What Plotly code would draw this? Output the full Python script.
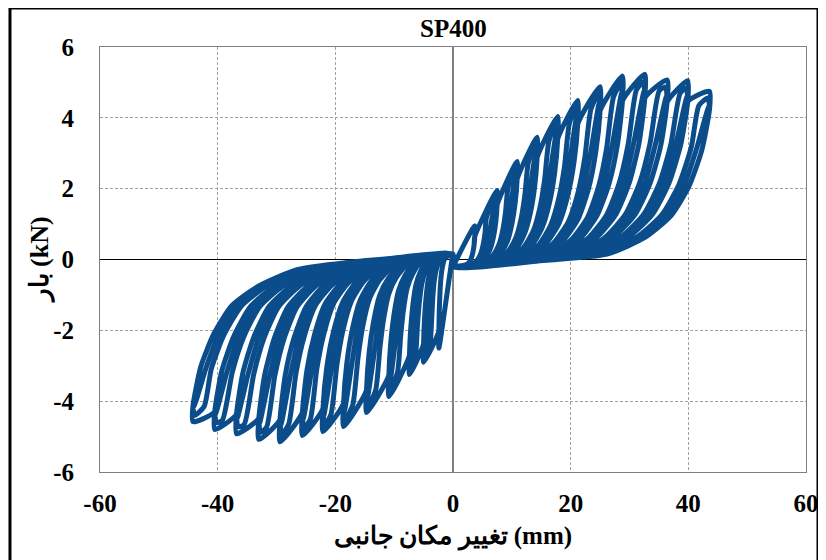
import plotly.graph_objects as go

# ---- tick labels ----
x_tickvals = [-60, -40, -20, 0, 20, 40, 60]
x_ticktext = ["-60", "-40", "-20", "0", "20", "40", "60"]
y_tickvals = [-6, -4, -2, 0, 2, 4, 6]
y_ticktext = ["-6", "-4", "-2", "0", "2", "4", "6"]

# ---- positive half-cycles: peak of first cycle at each amplitude (mm, kN) ----
pos_peak_x = [3.7, 7.5, 10.9, 14.3, 17.8, 21.2, 25.0, 28.8, 32.6, 36.4, 39.9, 43.6]
pos_peak_y = [0.95, 1.95, 2.77, 3.45, 4.04, 4.49, 4.88, 5.18, 5.23, 5.07, 5.05, 4.75]

# pinched reload / unload curve for each positive amplitude (origin -> top)
pos_curve_x = [
    [0, 1.30, 2.22, 2.78, 3.15, 3.40, 3.59, 3.70],
    [0, 2.63, 4.50, 5.63, 6.38, 6.90, 7.28, 7.50],
    [0, 3.82, 6.54, 8.18, 9.27, 10.03, 10.57, 10.90],
    [0, 5.00, 8.58, 10.73, 12.16, 13.16, 13.87, 14.30],
    [0, 6.23, 10.68, 13.35, 15.13, 16.38, 17.27, 17.80],
    [0, 7.42, 12.72, 15.90, 18.02, 19.50, 20.56, 21.20],
    [0, 8.75, 15.00, 18.75, 21.25, 23.00, 24.25, 25.00],
    [0, 10.08, 17.28, 21.60, 24.48, 26.50, 27.94, 28.80],
    [0, 11.41, 19.56, 24.45, 27.71, 29.99, 31.62, 32.60],
    [0, 12.74, 21.84, 27.30, 30.94, 33.49, 35.31, 36.40],
    [0, 13.97, 23.94, 29.93, 33.92, 36.71, 38.70, 39.90],
    [0, 15.26, 26.16, 32.70, 37.06, 40.11, 42.29, 43.60],
]
pos_curve_y = [
    [-0.20, -0.18, -0.15, -0.07, 0.06, 0.22, 0.42, 0.65],
    [-0.20, -0.16, -0.10, 0.08, 0.32, 0.66, 1.07, 1.54],
    [-0.20, -0.14, -0.07, 0.20, 0.53, 1.02, 1.60, 2.27],
    [-0.20, -0.13, -0.03, 0.30, 0.73, 1.32, 2.05, 2.88],
    [-0.20, -0.11, 0.01, 0.39, 0.89, 1.59, 2.44, 3.41],
    [-0.20, -0.10, 0.03, 0.47, 1.02, 1.80, 2.74, 3.83],
    [-0.20, -0.08, 0.07, 0.54, 1.14, 1.98, 3.02, 4.20],
    [-0.20, -0.07, 0.10, 0.59, 1.24, 2.13, 3.23, 4.48],
    [-0.20, -0.06, 0.12, 0.63, 1.28, 2.18, 3.29, 4.56],
    [-0.20, -0.05, 0.12, 0.63, 1.27, 2.15, 3.22, 4.45],
    [-0.20, -0.04, 0.14, 0.65, 1.28, 2.16, 3.24, 4.46],
    [-0.20, -0.03, 0.15, 0.63, 1.24, 2.07, 3.09, 4.24],
]
# second-cycle reload paths (amplitudes 2..12), ending at the second-cycle peak
pos_cycle2_x = [
    [3.36, 4.20, 4.77, 5.15, 5.44, 5.67, 7.25],
    [5.52, 6.91, 7.83, 8.47, 8.93, 9.35, 10.65],
    [7.56, 9.46, 10.72, 11.60, 12.22, 12.80, 14.05],
    [9.63, 12.04, 13.65, 14.77, 15.57, 16.30, 17.55],
    [11.70, 14.63, 16.58, 17.94, 18.92, 19.78, 20.95],
    [13.86, 17.33, 19.64, 21.25, 22.41, 23.45, 24.75],
    [16.14, 20.18, 22.87, 24.75, 26.10, 27.28, 28.55],
    [18.42, 23.03, 26.10, 28.25, 29.78, 31.16, 32.35],
    [20.70, 25.88, 29.33, 31.74, 33.47, 35.05, 36.15],
    [22.89, 28.62, 32.43, 35.10, 37.00, 38.60, 39.65],
    [25.05, 31.32, 35.49, 38.41, 40.50, 41.80, 43.35],
]
pos_cycle2_y = [
    [-0.13, 0.00, 0.19, 0.44, 0.75, 1.17, 1.87],
    [-0.09, 0.14, 0.43, 0.84, 1.34, 2.03, 2.66],
    [-0.05, 0.25, 0.63, 1.17, 1.83, 2.74, 3.31],
    [-0.01, 0.35, 0.81, 1.46, 2.25, 3.34, 3.88],
    [0.02, 0.43, 0.96, 1.70, 2.59, 3.84, 4.31],
    [0.05, 0.51, 1.08, 1.89, 2.88, 4.25, 4.68],
    [0.09, 0.57, 1.19, 2.06, 3.13, 4.59, 4.97],
    [0.11, 0.61, 1.26, 2.16, 3.26, 4.78, 5.02],
    [0.12, 0.63, 1.28, 2.17, 3.26, 4.76, 4.87],
    [0.13, 0.64, 1.28, 2.16, 3.23, 4.69, 4.85],
    [0.15, 0.64, 1.26, 2.12, 3.17, 4.35, 4.56],
]
# third-cycle reload paths (amplitudes 2..12)
pos_cycle3_x = [
    [3.93, 4.92, 5.58, 6.03, 6.36, 7.38],
    [6.03, 7.55, 8.55, 9.25, 9.75, 10.78],
    [8.07, 10.10, 11.44, 12.38, 13.05, 14.18],
    [10.16, 12.70, 14.39, 15.58, 16.42, 17.68],
    [12.21, 15.27, 17.30, 18.72, 19.74, 21.08],
    [14.43, 18.04, 20.45, 22.13, 23.33, 24.88],
    [16.71, 20.89, 23.68, 25.63, 27.02, 28.68],
    [18.99, 23.74, 26.91, 29.12, 30.70, 32.48],
    [21.27, 26.59, 30.14, 32.62, 34.39, 36.28],
    [23.42, 29.28, 33.18, 35.91, 37.85, 39.78],
    [25.61, 32.01, 36.28, 39.26, 41.40, 43.48],
]
pos_cycle3_y = [
    [-0.12, 0.04, 0.26, 0.55, 0.91, 1.77],
    [-0.08, 0.17, 0.48, 0.93, 1.47, 2.52],
    [-0.04, 0.28, 0.68, 1.25, 1.94, 3.14],
    [0.00, 0.37, 0.85, 1.53, 2.35, 3.68],
    [0.03, 0.45, 0.99, 1.75, 2.67, 4.09],
    [0.06, 0.53, 1.11, 1.94, 2.95, 4.44],
    [0.10, 0.58, 1.22, 2.10, 3.18, 4.71],
    [0.12, 0.62, 1.27, 2.17, 3.28, 4.76],
    [0.12, 0.63, 1.28, 2.16, 3.24, 4.61],
    [0.14, 0.65, 1.28, 2.16, 3.24, 4.60],
    [0.15, 0.64, 1.25, 2.10, 3.13, 4.32],
]

# ---- negative half-cycles ----
neg_peak_x = [-2.4, -5.0, -7.4, -10.9, -14.7, -18.6, -22.1, -25.6, -29.4, -33.0, -36.8, -40.5, -44.2]
neg_peak_y = [-2.5, -2.9, -3.25, -3.87, -4.32, -4.72, -4.86, -4.97, -5.15, -5.08, -4.92, -4.80, -4.58]

neg_curve_x = [
    [0, -0.84, -1.44, -1.80, -2.04, -2.21, -2.33, -2.40],
    [0, -1.75, -3.00, -3.75, -4.25, -4.60, -4.85, -5.00],
    [0, -2.59, -4.44, -5.55, -6.29, -6.81, -7.18, -7.40],
    [0, -3.82, -6.54, -8.18, -9.27, -10.03, -10.57, -10.90],
    [0, -5.15, -8.82, -11.03, -12.50, -13.52, -14.26, -14.70],
    [0, -6.51, -11.16, -13.95, -15.81, -17.11, -18.04, -18.60],
    [0, -7.74, -13.26, -16.58, -18.79, -20.33, -21.44, -22.10],
    [0, -8.96, -15.36, -19.20, -21.76, -23.55, -24.83, -25.60],
    [0, -10.29, -17.64, -22.05, -24.99, -27.05, -28.52, -29.40],
    [0, -11.55, -19.80, -24.75, -28.05, -30.36, -32.01, -33.00],
    [0, -12.88, -22.08, -27.60, -31.28, -33.86, -35.70, -36.80],
    [0, -14.18, -24.30, -30.38, -34.43, -37.26, -39.29, -40.50],
    [0, -15.47, -26.52, -33.15, -37.57, -40.66, -42.87, -44.20],
]
neg_curve_y = [
    [0.15, 0.10, 0.01, -0.21, -0.50, -0.92, -1.42, -2.02],
    [0.15, 0.10, -0.02, -0.29, -0.61, -1.11, -1.69, -2.38],
    [0.15, 0.08, -0.05, -0.35, -0.71, -1.27, -1.93, -2.71],
    [0.15, 0.06, -0.09, -0.46, -0.89, -1.56, -2.33, -3.27],
    [0.15, 0.05, -0.14, -0.54, -1.03, -1.77, -2.64, -3.69],
    [0.15, 0.03, -0.18, -0.62, -1.16, -1.97, -2.92, -4.06],
    [0.15, 0.02, -0.20, -0.66, -1.22, -2.05, -3.03, -4.21],
    [0.15, 0.01, -0.22, -0.70, -1.26, -2.13, -3.13, -4.32],
    [0.15, -0.01, -0.25, -0.75, -1.34, -2.23, -3.27, -4.52],
    [0.15, -0.02, -0.26, -0.76, -1.34, -2.22, -3.26, -4.48],
    [0.15, -0.02, -0.28, -0.76, -1.33, -2.19, -3.19, -4.37],
    [0.15, -0.03, -0.28, -0.76, -1.33, -2.17, -3.14, -4.30],
    [0.15, -0.04, -0.29, -0.76, -1.30, -2.10, -3.03, -4.14],
]
neg_cycle2_x = [
    [-2.22, -2.78, -3.15, -3.41, -3.59, -3.90, -4.75],
    [-3.72, -4.65, -5.27, -5.71, -6.02, -6.39, -7.15],
    [-5.49, -6.87, -7.78, -8.42, -8.88, -9.42, -10.65],
    [-7.68, -9.61, -10.89, -11.78, -12.42, -13.15, -14.45],
    [-9.99, -12.49, -14.16, -15.32, -16.15, -17.03, -18.35],
    [-12.21, -15.27, -17.30, -18.72, -19.74, -20.75, -21.85],
    [-14.31, -17.89, -20.28, -21.94, -23.14, -24.25, -25.35],
    [-16.50, -20.63, -23.38, -25.30, -26.68, -27.93, -29.15],
    [-18.72, -23.40, -26.52, -28.71, -30.27, -31.70, -32.75],
    [-20.94, -26.18, -29.67, -32.11, -33.86, -35.50, -36.55],
    [-23.19, -28.99, -32.86, -35.56, -37.50, -39.20, -40.25],
    [-25.41, -31.77, -36.00, -38.96, -41.08, -42.30, -43.95],
]
neg_cycle2_y = [
    [-0.01, -0.25, -0.56, -1.02, -1.56, -2.37, -2.78],
    [-0.04, -0.32, -0.66, -1.19, -1.81, -2.73, -3.12],
    [-0.07, -0.41, -0.80, -1.42, -2.13, -3.17, -3.72],
    [-0.12, -0.50, -0.96, -1.67, -2.49, -3.69, -4.15],
    [-0.16, -0.58, -1.10, -1.87, -2.78, -4.10, -4.53],
    [-0.19, -0.64, -1.19, -2.01, -2.98, -4.38, -4.67],
    [-0.21, -0.68, -1.24, -2.09, -3.08, -4.51, -4.77],
    [-0.24, -0.73, -1.30, -2.18, -3.20, -4.65, -4.94],
    [-0.26, -0.76, -1.34, -2.23, -3.27, -4.74, -4.88],
    [-0.27, -0.76, -1.34, -2.21, -3.23, -4.66, -4.72],
    [-0.28, -0.76, -1.33, -2.18, -3.17, -4.54, -4.61],
    [-0.29, -0.76, -1.32, -2.14, -3.09, -4.15, -4.40],
]
neg_cycle3_x = [
    [-2.61, -3.27, -3.70, -4.01, -4.22, -4.88],
    [-4.08, -5.10, -5.78, -6.26, -6.60, -7.28],
    [-6.02, -7.53, -8.53, -9.23, -9.73, -10.78],
    [-8.25, -10.32, -11.70, -12.65, -13.34, -14.58],
    [-10.58, -13.22, -14.99, -16.22, -17.10, -18.48],
    [-12.74, -15.93, -18.05, -19.53, -20.59, -21.98],
    [-14.84, -18.55, -21.02, -22.75, -23.99, -25.48],
    [-17.07, -21.34, -24.19, -26.18, -27.60, -29.28],
    [-19.26, -24.08, -27.29, -29.54, -31.14, -32.88],
    [-21.51, -26.89, -30.48, -32.99, -34.78, -36.68],
    [-23.75, -29.69, -33.65, -36.41, -38.40, -40.38],
    [-25.97, -32.46, -36.79, -39.81, -41.98, -44.08],
]
neg_cycle3_y = [
    [-0.02, -0.27, -0.59, -1.07, -1.63, -2.64],
    [-0.05, -0.34, -0.69, -1.23, -1.87, -2.96],
    [-0.08, -0.44, -0.85, -1.49, -2.23, -3.52],
    [-0.13, -0.52, -1.00, -1.72, -2.57, -3.93],
    [-0.17, -0.60, -1.13, -1.92, -2.85, -4.30],
    [-0.20, -0.65, -1.21, -2.03, -3.01, -4.42],
    [-0.22, -0.69, -1.25, -2.11, -3.11, -4.52],
    [-0.25, -0.74, -1.32, -2.21, -3.24, -4.69],
    [-0.26, -0.76, -1.34, -2.23, -3.27, -4.62],
    [-0.28, -0.76, -1.34, -2.20, -3.21, -4.48],
    [-0.28, -0.76, -1.33, -2.18, -3.16, -4.37],
    [-0.29, -0.76, -1.31, -2.12, -3.06, -4.17],
]

BLUE = "#0a4d8a"
FONT = "Liberation Serif, Times New Roman, serif"


def half_cycle(curves_x, curves_y, peaks_x, peaks_y, c2x, c2y, c3x, c3y, k):
    """Assemble the path of one amplitude level from the tabulated pieces."""
    cx, cy = curves_x[k], curves_y[k]
    if k > 0:
        px, py = list(curves_x[k - 1]), list(curves_y[k - 1])
    else:
        px, py = [cx[0]], [cy[0]]
    xs = px + [peaks_x[k]] + cx[::-1]
    ys = py + [peaks_y[k]] + cy[::-1]
    if k > 0:
        for rx, ry in ((c2x[k - 1], c2y[k - 1]), (c3x[k - 1], c3y[k - 1])):
            xs += cx[:2] + rx + [cx[-1]] + cx[::-1]
            ys += cy[:2] + ry + [cy[-1]] + cy[::-1]
    return xs, ys


all_x, all_y = [], []
n = max(len(pos_peak_x), len(neg_peak_x))
for k in range(n):
    if k < len(pos_peak_x):
        xs, ys = half_cycle(pos_curve_x, pos_curve_y, pos_peak_x, pos_peak_y,
                            pos_cycle2_x, pos_cycle2_y, pos_cycle3_x, pos_cycle3_y, k)
        all_x += xs
        all_y += ys
    if k < len(neg_peak_x):
        xs, ys = half_cycle(neg_curve_x, neg_curve_y, neg_peak_x, neg_peak_y,
                            neg_cycle2_x, neg_cycle2_y, neg_cycle3_x, neg_cycle3_y, k)
        all_x += xs
        all_y += ys

fig = go.Figure()
fig.add_trace(go.Scatter(
    x=all_x, y=all_y, mode="lines",
    line=dict(color=BLUE, width=5, shape="spline", smoothing=0.6),
    hoverinfo="skip", showlegend=False,
))

axis_common = dict(
    showgrid=True, gridcolor="#a0a0a0", griddash="3px,2px", gridwidth=1,
    showline=True, linecolor="#7f7f7f", linewidth=1, mirror=True,
    ticks="", tickfont=dict(family=FONT, size=25, color="black", weight="bold"),
)
fig.update_xaxes(range=[-60, 60], tickvals=x_tickvals, ticktext=x_ticktext,
                 zeroline=True, zerolinecolor="#808080", zerolinewidth=1.8,
                 ticklabelstandoff=9, **axis_common)
fig.update_yaxes(range=[-6, 6], tickvals=y_tickvals, ticktext=y_ticktext,
                 zeroline=True, zerolinecolor="black", zerolinewidth=1.2,
                 ticklabelstandoff=20, **axis_common)

fig.update_layout(
    width=826, height=560,
    margin=dict(l=92, r=28, t=39, b=96),
    paper_bgcolor="white", plot_bgcolor="white",
    showlegend=False,
    annotations=[
        dict(text="SP400", x=0.5, y=1.0447, xref="paper", yref="paper",
             showarrow=False, xanchor="center", yanchor="middle",
             font=dict(family=FONT, size=25, color="black", weight="bold")),
        dict(text="تغییر مکان جانبی (mm)", x=0.5, y=-0.152, xref="paper", yref="paper",
             showarrow=False, xanchor="center", yanchor="middle",
             font=dict(family=FONT, size=25, color="black", weight="bold")),
        dict(text="بار (kN)", x=-0.085, y=0.5, xref="paper", yref="paper",
             showarrow=False, xanchor="center", yanchor="middle", textangle=-90,
             font=dict(family=FONT, size=26, color="black", weight="bold")),
    ],
    shapes=[
        dict(type="rect", xref="paper", yref="paper",
             x0=-0.1275, x1=1.017, y0=-0.26, y1=1.0918,
             line=dict(color="black", width=3), fillcolor="rgba(0,0,0,0)", layer="above"),
    ],
)

fig.write_html("out.html")
